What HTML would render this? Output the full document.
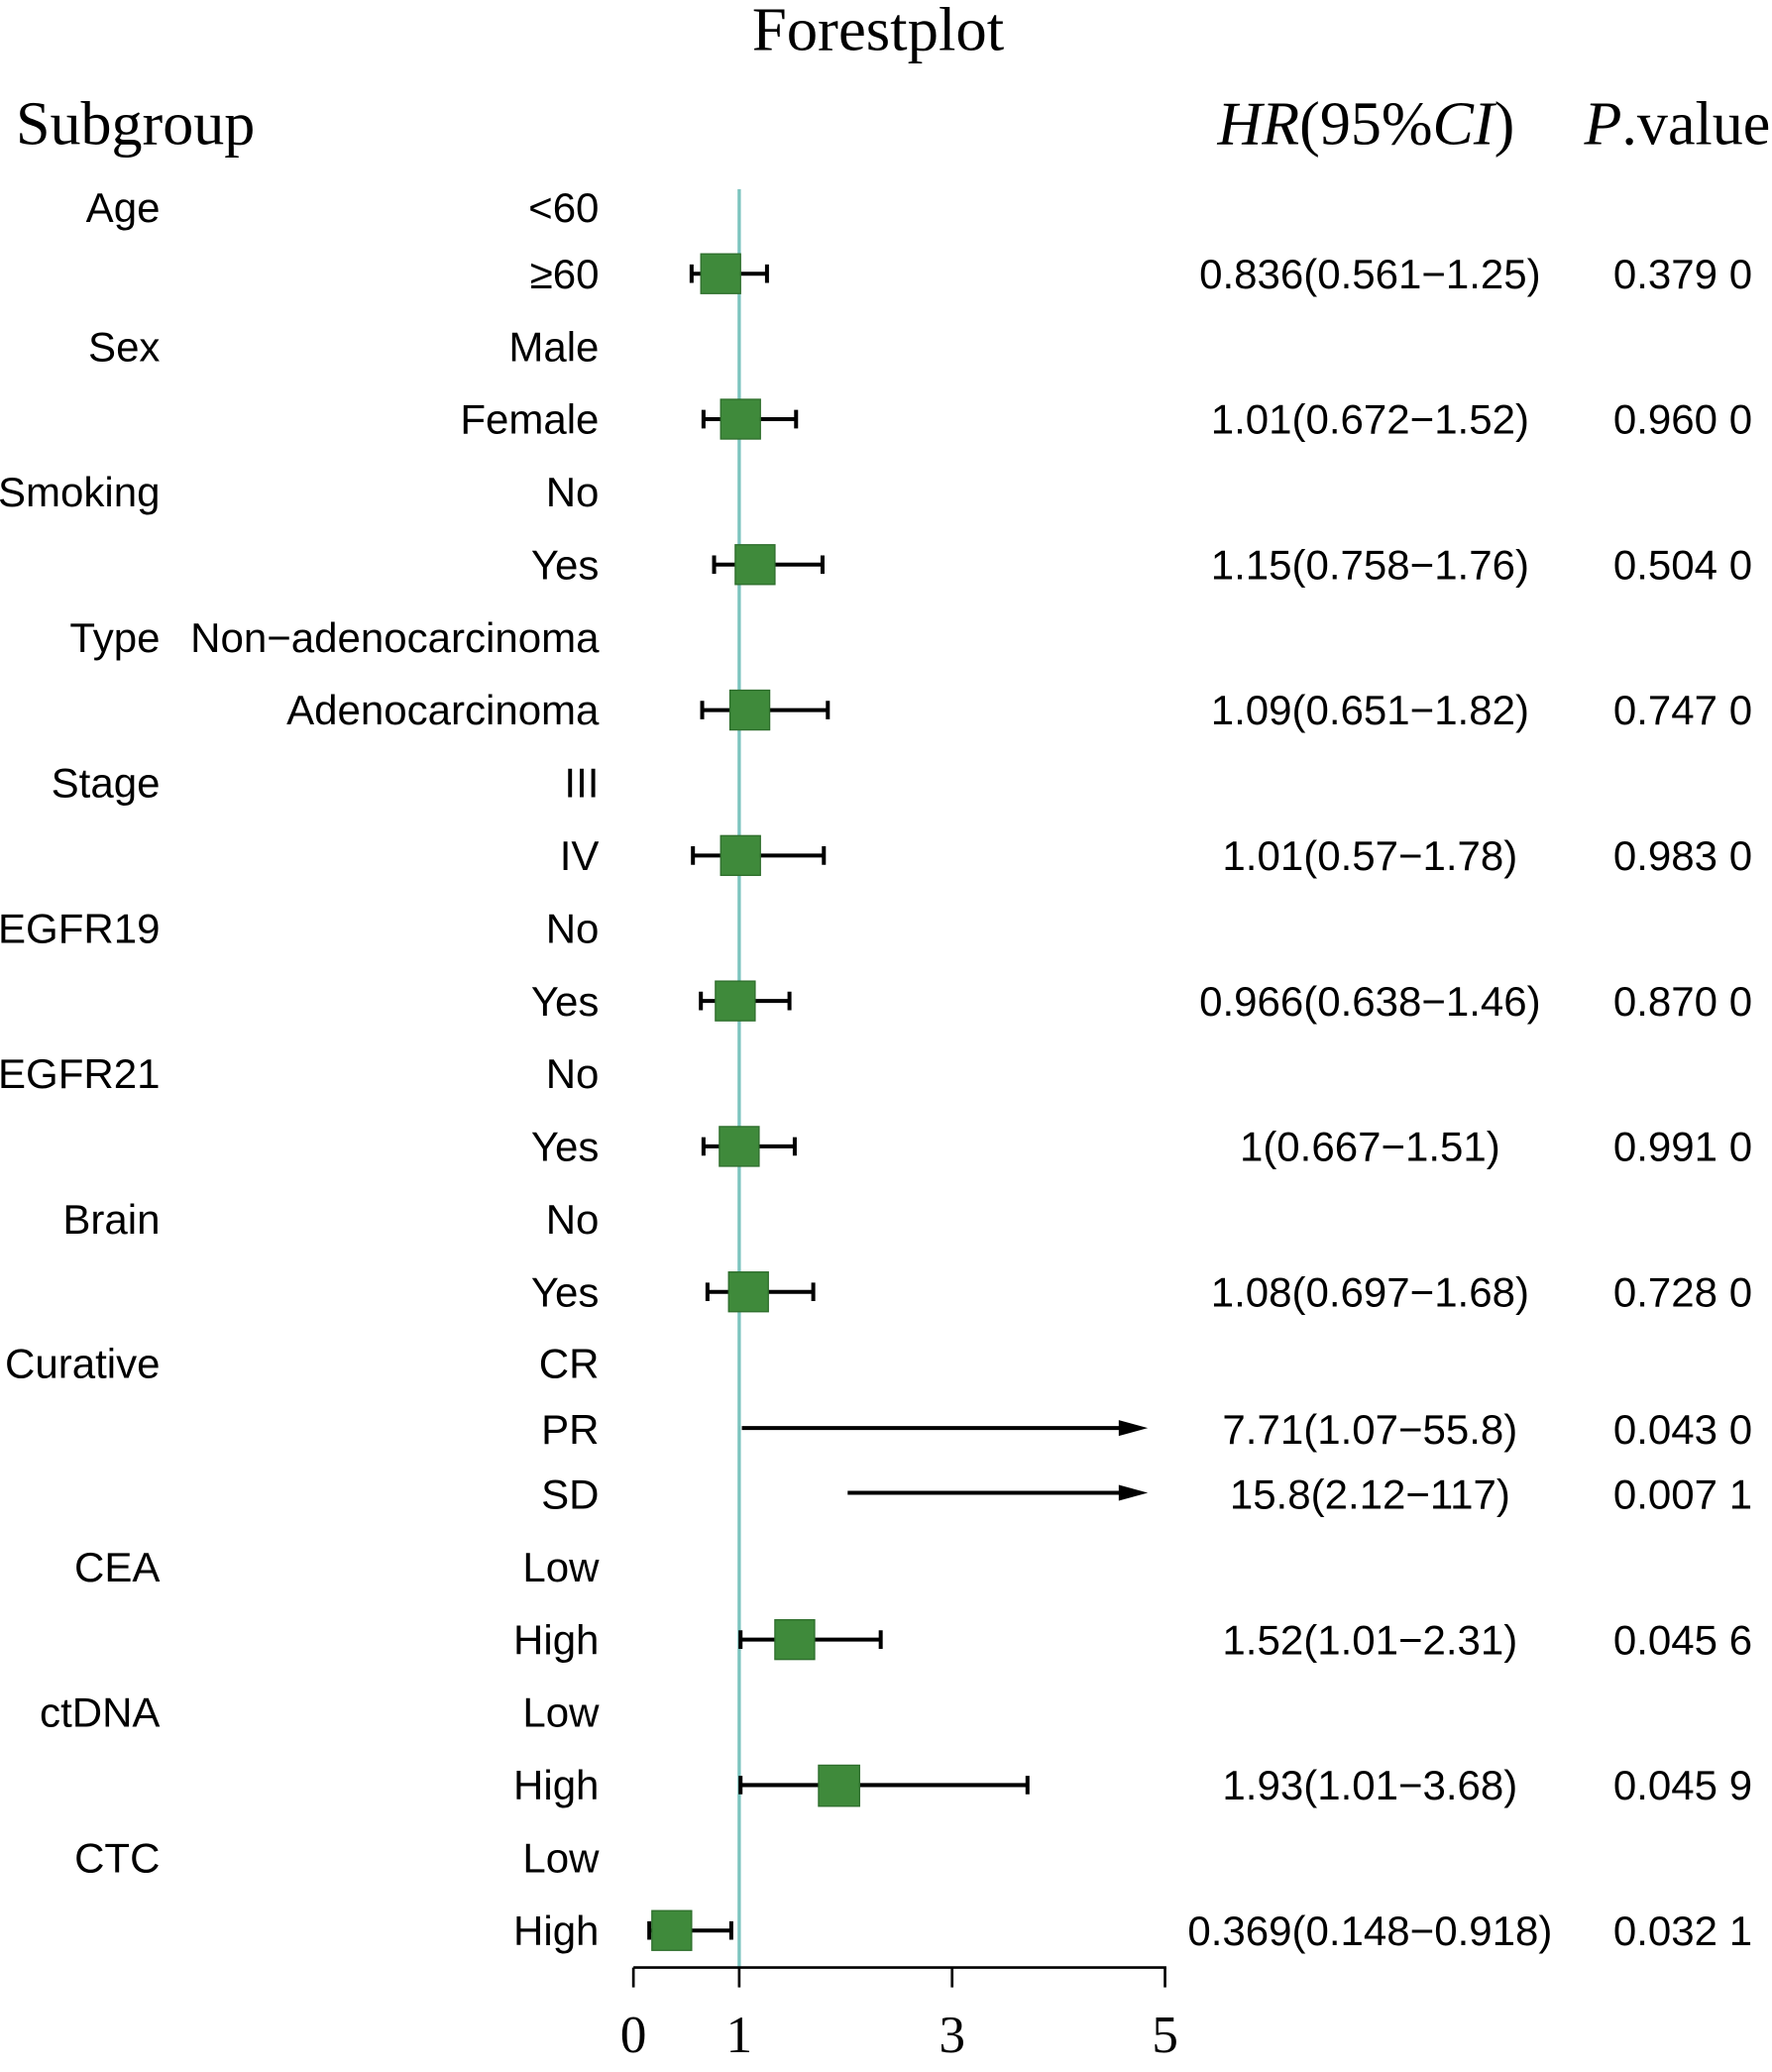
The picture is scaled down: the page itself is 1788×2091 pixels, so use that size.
<!DOCTYPE html>
<html><head><meta charset="utf-8"><style>html,body{margin:0;padding:0;background:#fff}svg{display:block}</style></head>
<body>
<svg width="1788" height="2091" viewBox="0 0 1340 1567" preserveAspectRatio="none" xmlns="http://www.w3.org/2000/svg">
<g font-family="Liberation Serif, serif" fill="#000">
<text x="664" y="38" font-size="47" text-anchor="middle">Forestplot</text>
<text x="12" y="109" font-size="46.5">Subgroup</text>
<text x="1033" y="109" font-size="46.5" text-anchor="middle"><tspan font-style="italic">HR</tspan>(95%<tspan font-style="italic">CI</tspan>)</text>
<text x="1198" y="109" font-size="46.5"><tspan font-style="italic">P</tspan>.value</text>
<text x="479" y="1552" font-size="40" text-anchor="middle">0</text>
<text x="559" y="1552" font-size="40" text-anchor="middle">1</text>
<text x="720" y="1552" font-size="40" text-anchor="middle">3</text>
<text x="881" y="1552" font-size="40" text-anchor="middle">5</text>
</g>
<line x1="559" y1="143" x2="559" y2="1488" stroke="#7cc4bf" stroke-width="2.5"/>
<g stroke="#000" stroke-width="2">
<line x1="479" y1="1488" x2="882" y2="1488"/>
<line x1="479" y1="1488" x2="479" y2="1503"/>
<line x1="559" y1="1488" x2="559" y2="1503"/>
<line x1="720" y1="1488" x2="720" y2="1503"/>
<line x1="881" y1="1488" x2="881" y2="1503"/>
</g>
<g font-family="Liberation Sans, sans-serif" font-size="31.5" fill="#000">
<g text-anchor="end">
<text x="121" y="168">Age</text><text x="121" y="273">Sex</text><text x="121" y="383">Smoking</text>
<text x="121" y="493">Type</text><text x="121" y="603">Stage</text><text x="121" y="713">EGFR19</text>
<text x="121" y="823">EGFR21</text><text x="121" y="933">Brain</text><text x="121" y="1042">Curative</text>
<text x="121" y="1196">CEA</text><text x="121" y="1306">ctDNA</text><text x="121" y="1416">CTC</text>
<text x="453" y="168">&lt;60</text><text x="453" y="218">≥60</text><text x="453" y="273">Male</text>
<text x="453" y="328">Female</text><text x="453" y="383">No</text><text x="453" y="438">Yes</text>
<text x="453" y="493">Non−adenocarcinoma</text><text x="453" y="548">Adenocarcinoma</text>
<text x="453" y="603">III</text><text x="453" y="658">IV</text><text x="453" y="713">No</text>
<text x="453" y="768">Yes</text><text x="453" y="823">No</text><text x="453" y="878">Yes</text>
<text x="453" y="933">No</text><text x="453" y="988">Yes</text><text x="453" y="1042">CR</text>
<text x="453" y="1092">PR</text><text x="453" y="1141">SD</text><text x="453" y="1196">Low</text>
<text x="453" y="1251">High</text><text x="453" y="1306">Low</text><text x="453" y="1361">High</text>
<text x="453" y="1416">Low</text><text x="453" y="1471">High</text>
</g>
<g text-anchor="middle">
<text x="1036" y="218">0.836(0.561−1.25)</text><text x="1036" y="328">1.01(0.672−1.52)</text>
<text x="1036" y="438">1.15(0.758−1.76)</text><text x="1036" y="548">1.09(0.651−1.82)</text>
<text x="1036" y="658">1.01(0.57−1.78)</text><text x="1036" y="768">0.966(0.638−1.46)</text>
<text x="1036" y="878">1(0.667−1.51)</text><text x="1036" y="988">1.08(0.697−1.68)</text>
<text x="1036" y="1092">7.71(1.07−55.8)</text><text x="1036" y="1141">15.8(2.12−117)</text>
<text x="1036" y="1251">1.52(1.01−2.31)</text><text x="1036" y="1361">1.93(1.01−3.68)</text>
<text x="1036" y="1471">0.369(0.148−0.918)</text>
</g>
<g>
<text x="1220" y="218">0.379 0</text><text x="1220" y="328">0.960 0</text><text x="1220" y="438">0.504 0</text>
<text x="1220" y="548">0.747 0</text><text x="1220" y="658">0.983 0</text><text x="1220" y="768">0.870 0</text>
<text x="1220" y="878">0.991 0</text><text x="1220" y="988">0.728 0</text><text x="1220" y="1092">0.043 0</text>
<text x="1220" y="1141">0.007 1</text><text x="1220" y="1251">0.045 6</text><text x="1220" y="1361">0.045 9</text>
<text x="1220" y="1471">0.032 1</text>
</g>
</g>
<g stroke="#000" stroke-width="3" fill="none">
<path d="M523 207H580M523 200V214M580 200V214"/>
<path d="M532 317H602M532 310V324M602 310V324"/>
<path d="M540 427H622M540 420V434M622 420V434"/>
<path d="M531 537H626M531 530V544M626 530V544"/>
<path d="M524 647H623M524 640V654M623 640V654"/>
<path d="M530 757H597M530 750V764M597 750V764"/>
<path d="M532 867H601M532 860V874M601 860V874"/>
<path d="M535 977H615M535 970V984M615 970V984"/>
<path d="M560 1240H666M560 1233V1247M666 1233V1247"/>
<path d="M560 1350H777M560 1343V1357M777 1343V1357"/>
<path d="M491 1460H553M491 1453V1467M553 1453V1467"/>
<path d="M561 1080H850"/><path d="M641 1129H850"/>
</g>
<path d="M868 1080L846 1074V1086Z M868 1129L846 1123V1135Z" fill="#000"/>
<g fill="#3f8a3b" stroke="#2e6e2c" stroke-width="1">
<rect x="530" y="192" width="30" height="30"/>
<rect x="545" y="302" width="30" height="30"/>
<rect x="556" y="412" width="30" height="30"/>
<rect x="552" y="522" width="30" height="30"/>
<rect x="545" y="632" width="30" height="30"/>
<rect x="541" y="742" width="30" height="30"/>
<rect x="544" y="852" width="30" height="30"/>
<rect x="551" y="962" width="30" height="30"/>
<rect x="586" y="1225" width="30" height="30"/>
<rect x="619" y="1335" width="31" height="31"/>
<rect x="493" y="1445" width="30" height="30"/>
</g>
</svg>
</body></html>
